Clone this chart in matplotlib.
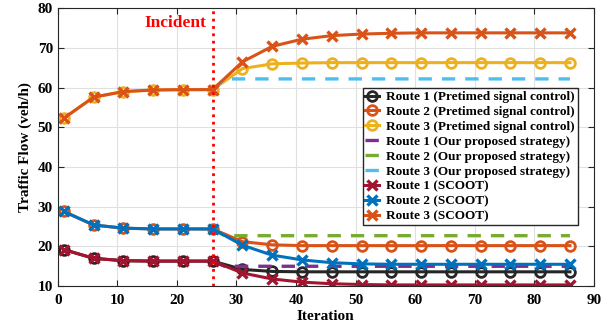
import matplotlib.pyplot as plt
import numpy as np

plt.rcParams["font.family"] = ["Liberation Serif", "DejaVu Serif"]
plt.rcParams["font.weight"] = "bold"

# iterations where markers are drawn
iters = [1, 6, 11, 16, 21, 26, 31, 36, 41, 46, 51, 56, 61, 66, 71, 76, 81, 86]

# pretimed signal control
pre_r1 = [19.2, 17.0, 16.4, 16.3, 16.3, 16.3, 14.2, 13.7, 13.6, 13.6, 13.6, 13.6, 13.6, 13.6, 13.6, 13.6, 13.6, 13.6]
pre_r2 = [28.8, 25.4, 24.6, 24.4, 24.4, 24.4, 21.2, 20.4, 20.2, 20.2, 20.2, 20.2, 20.2, 20.2, 20.2, 20.2, 20.2, 20.2]
pre_r3 = [52.3, 57.6, 59.0, 59.4, 59.5, 59.5, 64.8, 66.0, 66.2, 66.3, 66.3, 66.3, 66.3, 66.3, 66.3, 66.3, 66.3, 66.3]

# SCOOT
sc_r1 = [19.2, 17.0, 16.4, 16.3, 16.3, 16.3, 13.3, 11.8, 11.0, 10.6, 10.4, 10.3, 10.3, 10.3, 10.3, 10.3, 10.3, 10.3]
sc_r2 = [28.8, 25.4, 24.6, 24.4, 24.4, 24.4, 20.3, 17.8, 16.6, 15.9, 15.6, 15.5, 15.5, 15.5, 15.5, 15.5, 15.5, 15.5]
sc_r3 = [52.3, 57.6, 59.0, 59.4, 59.5, 59.5, 66.5, 70.4, 72.2, 73.1, 73.5, 73.7, 73.8, 73.8, 73.8, 73.8, 73.8, 73.8]

# our proposed strategy (after the incident)
prop_iters = [26, 28, 86]
prop_r1 = [16.3, 15.0, 15.0]
prop_r2 = [24.4, 22.7, 22.7]
prop_r3 = [59.5, 62.2, 62.2]

incident_iter = 26

c_black = "#262626"
c_orange = "#D95319"
c_yellow = "#EDB120"
c_purple = "#7E2F8E"
c_green = "#77AC30"
c_lblue = "#4DBEEE"
c_red = "#A2142F"
c_blue = "#0072BD"

fig, ax = plt.subplots(figsize=(6.09, 3.3), dpi=100)
fig.subplots_adjust(left=0.095, right=0.975, top=0.975, bottom=0.133)

circ = dict(marker="o", markersize=7, markerfacecolor="none", markeredgewidth=2, linewidth=2.2)
ax.plot(iters, pre_r1, color=c_black, label="Route 1 (Pretimed signal control)", **circ)
ax.plot(iters, pre_r2, color=c_orange, label="Route 2 (Pretimed signal control)", **circ)
ax.plot(iters, pre_r3, color=c_yellow, label="Route 3 (Pretimed signal control)", **circ)

dash = dict(linestyle=(0, (4, 3)), linewidth=2.4)
ax.plot(prop_iters, prop_r1, color=c_purple, label="Route 1 (Our proposed strategy)", **dash)
ax.plot(prop_iters, prop_r2, color=c_green, label="Route 2 (Our proposed strategy)", **dash)
ax.plot(prop_iters, prop_r3, color=c_lblue, label="Route 3 (Our proposed strategy)", **dash)

cross = dict(marker="x", markersize=6.5, markeredgewidth=2.4, linewidth=2.2)
ax.plot(iters, sc_r1, color=c_red, label="Route 1 (SCOOT)", **cross)
ax.plot(iters, sc_r2, color=c_blue, label="Route 2 (SCOOT)", **cross)
ax.plot(iters, sc_r3, color=c_orange, label="Route 3 (SCOOT)", **cross)

ax.axvline(incident_iter, color="red", linestyle=":", linewidth=2)
ax.text(incident_iter - 1, 75.3, "Incident", color="red", fontsize=12.5, fontweight="bold", ha="right")

ax.set_xlim(0, 90)
ax.set_ylim(10, 80)
ax.set_xticks(np.arange(0, 91, 10))
ax.set_yticks(np.arange(10, 81, 10))
ax.grid(True, color="#e0e0e0", linewidth=0.8)
ax.tick_params(direction="in", top=True, right=True, labelsize=11, length=4, color="#262626")
ax.tick_params(axis="x", pad=6)
for lab in ax.get_xticklabels() + ax.get_yticklabels():
    lab.set_fontweight("bold")
for sp in ax.spines.values():
    sp.set_color("#262626")
ax.set_xlabel("Iteration", fontsize=11, fontweight="bold", labelpad=2)
ax.set_ylabel("Traffic Flow (veh/h)", fontsize=11, fontweight="bold", labelpad=4)

leg = ax.legend(loc="upper right", bbox_to_anchor=(0.970, 0.712), fontsize=9.5, frameon=True,
                fancybox=False, edgecolor="#262626", framealpha=1, handlelength=1.0,
                handletextpad=0.6, borderpad=0.2, labelspacing=0.2, borderaxespad=0)
leg.get_frame().set_linewidth(1)

fig.savefig("out.png", dpi=100)
